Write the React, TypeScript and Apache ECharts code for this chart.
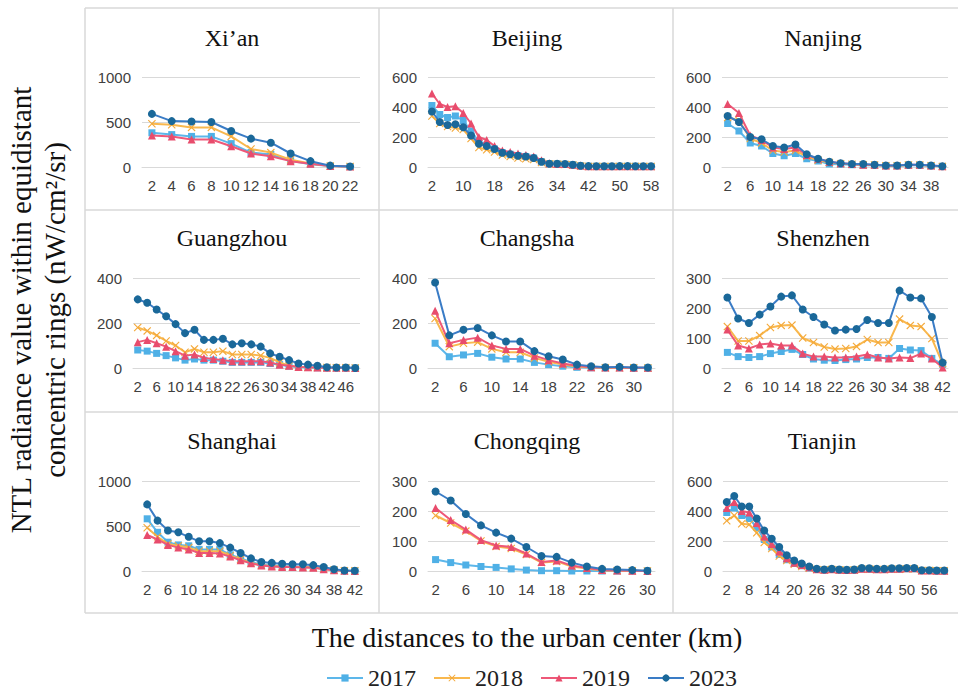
import React, { useEffect, useRef } from "react";
import * as echarts from "echarts";

// ---------- data ----------
const years = ["2017", "2018", "2019", "2023"];
const distances = (max: number) => {
  const out: string[] = [];
  for (let d = 2; d <= max; d += 2) out.push(String(d));
  return out;
};

const xianCats = distances(22);
const xian2017 = [380, 360, 340, 340, 260, 160, 140, 70, 30, 10, 5];
const xian2018 = [480, 470, 440, 440, 340, 200, 160, 80, 40, 10, 5];
const xian2019 = [350, 340, 305, 305, 230, 150, 120, 65, 35, 10, 5];
const xian2023 = [590, 510, 505, 500, 400, 315, 270, 150, 65, 15, 5];

const beijingCats = distances(58);
const beijing2017 = [410, 350, 330, 340, 310, 240, 170, 145, 120, 95, 85, 75, 70, 60, 35, 22, 20, 18, 15, 8, 5, 5, 4, 4, 5, 5, 5, 4, 4];
const beijing2018 = [340, 290, 270, 260, 250, 190, 130, 115, 100, 80, 70, 60, 55, 50, 30, 20, 18, 16, 13, 7, 4, 4, 3, 3, 4, 4, 4, 3, 3];
const beijing2019 = [490, 420, 400, 405, 360, 290, 200, 180, 140, 110, 100, 90, 80, 70, 45, 25, 20, 20, 15, 10, 5, 5, 5, 5, 5, 5, 5, 5, 5];
const beijing2023 = [370, 300, 280, 285, 265, 210, 155, 140, 120, 95, 85, 75, 70, 60, 35, 22, 22, 20, 15, 8, 6, 5, 5, 5, 6, 6, 5, 5, 5];

const nanjingCats = distances(40);
const nanjing2017 = [290, 240, 160, 140, 90, 75, 90, 55, 40, 20, 18, 15, 12, 12, 8, 8, 12, 12, 8, 4];
const nanjing2018 = [330, 310, 190, 160, 110, 100, 110, 70, 45, 30, 22, 18, 15, 14, 9, 9, 13, 13, 9, 4];
const nanjing2019 = [420, 360, 210, 180, 130, 120, 130, 80, 55, 35, 25, 20, 15, 15, 10, 10, 15, 15, 10, 5];
const nanjing2023 = [340, 300, 200, 185, 140, 130, 150, 85, 55, 35, 25, 20, 20, 15, 10, 10, 15, 15, 10, 5];

const guangzhouCats = distances(48);
const guangzhou2017 = [80, 75, 65, 55, 45, 35, 40, 35, 35, 30, 25, 25, 25, 25, 20, 15, 8, 4, 2, 1, 1, 1, 1, 0];
const guangzhou2018 = [180, 165, 145, 120, 100, 70, 85, 70, 70, 75, 60, 60, 60, 55, 45, 25, 10, 5, 3, 2, 2, 1, 1, 0];
const guangzhou2019 = [115, 125, 110, 95, 75, 55, 60, 45, 40, 35, 30, 30, 30, 30, 25, 15, 10, 5, 3, 2, 1, 1, 1, 0];
const guangzhou2023 = [305, 290, 260, 230, 195, 155, 170, 125, 125, 130, 105, 110, 105, 95, 65, 50, 35, 20, 15, 10, 3, 2, 2, 0];

const changshaCats = distances(32);
const changsha2017 = [110, 50, 58, 65, 48, 40, 40, 25, 15, 8, 3, 1, 1, 1, 0, 0];
const changsha2018 = [220, 95, 110, 115, 85, 70, 70, 45, 28, 15, 7, 2, 1, 1, 1, 0];
const changsha2019 = [255, 110, 125, 135, 100, 85, 85, 55, 35, 20, 10, 3, 2, 2, 1, 1];
const changsha2023 = [380, 145, 170, 178, 145, 118, 118, 75, 52, 38, 15, 8, 3, 5, 2, 2];

const shenzhenCats = distances(42);
const shenzhen2017 = [52, 38, 35, 38, 48, 55, 62, 45, 30, 26, 25, 28, 30, 35, 35, 32, 65, 60, 58, 32, 12];
const shenzhen2018 = [138, 90, 90, 108, 135, 142, 143, 100, 85, 70, 63, 65, 72, 95, 85, 85, 163, 142, 138, 98, 15];
const shenzhen2019 = [128, 75, 65, 78, 82, 75, 75, 48, 38, 38, 35, 35, 38, 45, 35, 32, 35, 33, 48, 32, 2];
const shenzhen2023 = [235, 165, 150, 178, 205, 238, 242, 195, 170, 145, 125, 128, 130, 160, 150, 150, 258, 235, 232, 170, 18];

const shanghaiCats = distances(42);
const shanghai2017 = [580, 430, 320, 290, 280, 240, 240, 240, 180, 140, 100, 70, 60, 55, 50, 50, 45, 30, 15, 3, 2];
const shanghai2018 = [480, 380, 300, 280, 260, 220, 220, 220, 170, 130, 90, 65, 55, 50, 45, 45, 40, 25, 10, 3, 2];
const shanghai2019 = [400, 350, 290, 260, 240, 200, 200, 195, 160, 120, 85, 60, 50, 45, 45, 40, 35, 20, 8, 2, 1];
const shanghai2023 = [740, 560, 450, 430, 380, 330, 330, 310, 260, 200, 140, 100, 90, 80, 75, 75, 65, 45, 20, 5, 3];

const chongqingCats = distances(30);
const chongqing2017 = [38, 28, 20, 15, 12, 7, 3, 1, 1, 0, 0, 0, 0, 0, 0];
const chongqing2018 = [185, 160, 133, 100, 82, 75, 55, 28, 32, 15, 8, 2, 1, 1, 0];
const chongqing2019 = [210, 170, 138, 103, 85, 80, 58, 30, 35, 18, 10, 3, 2, 1, 0];
const chongqing2023 = [265, 235, 190, 152, 128, 108, 80, 50, 47, 28, 15, 7, 5, 3, 1];

const tianjinCats = distances(60);
const tianjin2017 = [390, 420, 370, 350, 290, 210, 160, 110, 75, 50, 35, 20, 10, 7, 10, 7, 5, 7, 13, 13, 10, 10, 13, 13, 15, 15, 3, 3, 2, 2];
const tianjin2018 = [335, 370, 315, 310, 255, 190, 150, 100, 70, 45, 30, 18, 10, 7, 10, 7, 5, 7, 12, 12, 10, 10, 12, 12, 14, 14, 3, 3, 2, 2];
const tianjin2019 = [420, 460, 400, 390, 320, 230, 180, 130, 85, 55, 40, 25, 12, 8, 12, 8, 6, 8, 15, 15, 12, 12, 15, 15, 18, 18, 4, 4, 2, 2];
const tianjin2023 = [460, 500, 430, 430, 350, 270, 215, 160, 105, 70, 50, 30, 15, 10, 15, 10, 8, 10, 20, 18, 15, 15, 18, 18, 20, 20, 5, 5, 3, 3];

// ---------- styling ----------
const lineColors = ["#5db7ea", "#f9b84e", "#ee5878", "#3a7cc6"];
const markColors = ["#4fb0e6", "#f4a93a", "#e84c6c", "#1a6899"];
const crossPath = "path://M1,0L5,4L9,0L10,1L6,5L10,9L9,10L5,6L1,10L0,9L4,5L0,1Z";
const symbols = ["rect", crossPath, "triangle", "circle"];
const symbolSizes = [7, 8, 8, 8];

const panels = [
  { title: "Xi’an", cats: xianCats, data: [xian2017, xian2018, xian2019, xian2023], max: 1000, step: 500, li: 0, left: 142, right: 360, top: 77, tx: 232, ty: 38 },
  { title: "Beijing", cats: beijingCats, data: [beijing2017, beijing2018, beijing2019, beijing2023], max: 600, step: 200, li: 3, left: 428, right: 655, top: 77, tx: 527, ty: 38 },
  { title: "Nanjing", cats: nanjingCats, data: [nanjing2017, nanjing2018, nanjing2019, nanjing2023], max: 600, step: 200, li: 1, left: 722, right: 948, top: 77, tx: 823, ty: 38 },
  { title: "Guangzhou", cats: guangzhouCats, data: [guangzhou2017, guangzhou2018, guangzhou2019, guangzhou2023], max: 400, step: 200, li: 1, left: 133, right: 360, top: 278, tx: 232, ty: 238 },
  { title: "Changsha", cats: changshaCats, data: [changsha2017, changsha2018, changsha2019, changsha2023], max: 400, step: 200, li: 1, left: 428, right: 655, top: 278, tx: 527, ty: 238 },
  { title: "Shenzhen", cats: shenzhenCats, data: [shenzhen2017, shenzhen2018, shenzhen2019, shenzhen2023], max: 300, step: 100, li: 1, left: 722, right: 948, top: 278, tx: 823, ty: 238 },
  { title: "Shanghai", cats: shanghaiCats, data: [shanghai2017, shanghai2018, shanghai2019, shanghai2023], max: 1000, step: 500, li: 1, left: 142, right: 360, top: 481, tx: 232, ty: 441 },
  { title: "Chongqing", cats: chongqingCats, data: [chongqing2017, chongqing2018, chongqing2019, chongqing2023], max: 300, step: 100, li: 1, left: 428, right: 655, top: 481, tx: 527, ty: 441 },
  { title: "Tianjin", cats: tianjinCats, data: [tianjin2017, tianjin2018, tianjin2019, tianjin2023], max: 600, step: 200, li: 2, left: 723, right: 948, top: 481, tx: 822, ty: 441 },
];

const labelFont = "Liberation Sans";
const serif = "Liberation Serif";
const borderColor = "#d9d9d9";

function buildOption() {
  const grid: any[] = [];
  const xAxis: any[] = [];
  const yAxis: any[] = [];
  const series: any[] = [];
  const graphic: any[] = [];

  panels.forEach((p, i) => {
    grid.push({ left: p.left, top: p.top, width: p.right - p.left, height: 90 });
    xAxis.push({
      type: "category",
      gridIndex: i,
      data: p.cats,
      boundaryGap: true,
      axisLine: { show: true, lineStyle: { color: borderColor } },
      axisTick: { show: false },
      axisLabel: { interval: p.li, margin: 11, fontSize: 15, color: "#404040", fontFamily: labelFont },
    });
    yAxis.push({
      type: "value",
      gridIndex: i,
      min: 0,
      max: p.max,
      interval: p.step,
      axisLine: { show: false },
      axisTick: { show: false },
      axisLabel: {
        margin: 11,
        fontSize: 15,
        color: "#404040",
        fontFamily: labelFont,
        formatter: (v: number) => String(v),
      },
      splitLine: { lineStyle: { color: borderColor, width: 1 } },
    });
    p.data.forEach((vals, k) => {
      series.push({
        type: "line",
        name: years[k],
        xAxisIndex: i,
        yAxisIndex: i,
        data: vals,
        symbol: symbols[k],
        symbolSize: symbolSizes[k],
        showSymbol: true,
        showAllSymbol: true,
        lineStyle: { color: lineColors[k], width: 2 },
        itemStyle: { color: markColors[k] },
        z: 2 + k,
      });
    });
    graphic.push({
      type: "text",
      x: p.tx,
      y: p.ty,
      style: {
        text: p.title,
        font: `24px "${serif}"`,
        fill: "#111",
        textAlign: "center",
        textVerticalAlign: "middle",
      },
    });
  });

  // panel borders
  const ln = (x1: number, y1: number, x2: number, y2: number) => ({
    type: "line",
    shape: { x1, y1, x2, y2 },
    style: { stroke: borderColor, lineWidth: 1.5 },
    silent: true,
  });
  graphic.push(ln(85, 8, 958, 8));
  graphic.push(ln(85, 210, 958, 210));
  graphic.push(ln(85, 412, 958, 412));
  graphic.push(ln(85, 613, 958, 613));
  graphic.push(ln(85, 8, 85, 613));
  graphic.push(ln(379, 8, 379, 613));
  graphic.push(ln(673, 8, 673, 613));

  // axis titles
  graphic.push({
    type: "text",
    x: 38,
    y: 310,
    rotation: Math.PI / 2,
    style: {
      text: "NTL radiance value within equidistant\nconcentric rings (nW/cm²/sr)",
      font: `29px "${serif}"`,
      fill: "#111",
      textAlign: "center",
      textVerticalAlign: "middle",
      lineHeight: 34,
    },
  });
  graphic.push({
    type: "text",
    x: 527,
    y: 637,
    style: {
      text: "The distances to the urban center (km)",
      font: `28px "${serif}"`,
      fill: "#111",
      textAlign: "center",
      textVerticalAlign: "middle",
    },
  });

  return {
    animation: false,
    backgroundColor: "#ffffff",
    grid,
    xAxis,
    yAxis,
    series,
    graphic,
    legend: {
      data: years,
      left: 326,
      top: 665,
      padding: 0,
      itemWidth: 36,
      itemHeight: 9,
      itemGap: 17,
      textStyle: { fontFamily: serif, fontSize: 24, color: "#222", lineHeight: 26 },
    },
  };
}

export default function App() {
  const ref = useRef<HTMLDivElement>(null);
  useEffect(() => {
    if (!ref.current) return;
    const chart = echarts.init(ref.current, null, { renderer: "svg" });
    chart.setOption(buildOption() as any);
    return () => chart.dispose();
  }, []);
  return (
    <div
      ref={ref}
      style={{ position: "absolute", left: 0, top: 0, width: 958, height: 694, background: "#fff" }}
    />
  );
}
